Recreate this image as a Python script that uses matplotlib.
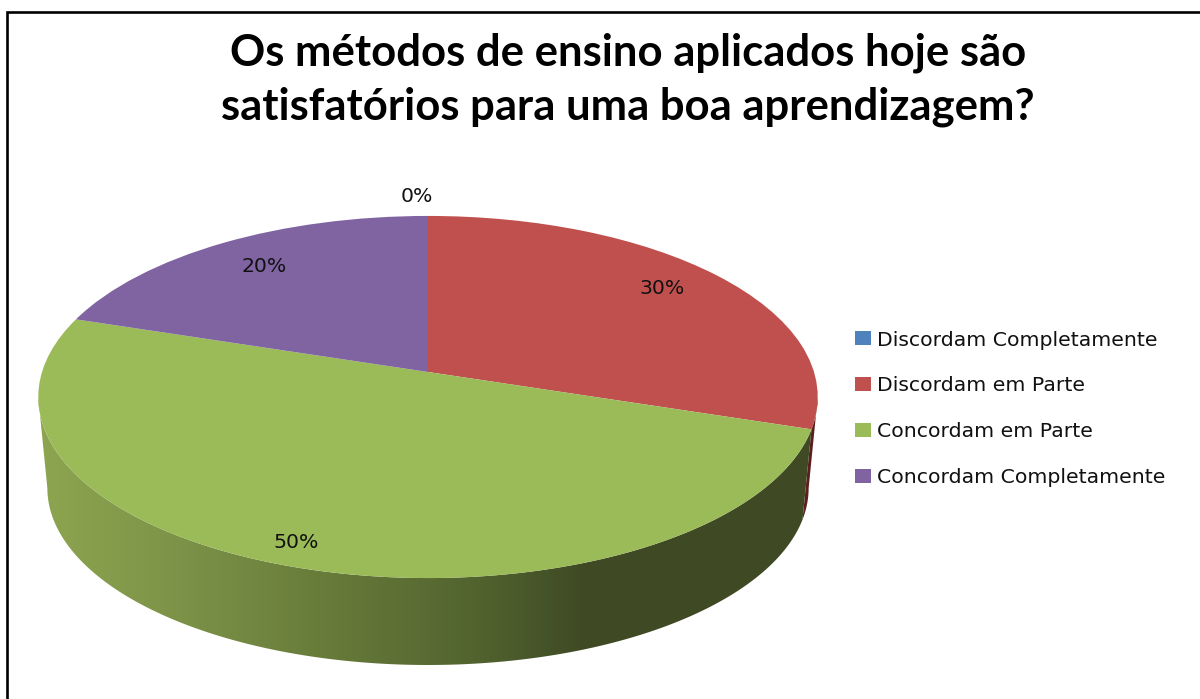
import numpy as np
from matplotlib import pyplot as plt
from matplotlib.colors import LinearSegmentedColormap
from matplotlib.patches import Polygon
from matplotlib.transforms import Transform

title = 'Os métodos de ensino aplicados hoje são\nsatisfatórios para uma boa aprendizagem?'
categories = ['Discordam Completamente', 'Discordam em Parte', 'Concordam em Parte', 'Concordam Completamente']
values = [0, 30, 50, 20]
colors = ['#4f81bd', '#c0504d', '#9bbb59', '#8064a2']
wall_stops = [(40, '#8ea650'), (150, '#80974a'), (300, '#6b7f3c'), (450, '#566831'),
              (520, '#4a5a2b'), (585, '#3f4a24'), (820, '#3f4a24')]

# perspective of the pie, all in picture pixels
CX, CY, RX, RY, K = 428, 372, 386, 177.6, 0.138
CY2, RX2, RY2 = 463.6, 377, 173.6
# where the wall meets the silhouette, clockwise from the top
EDGE_R, EDGE_L = 98, 262


class Tilt(Transform):
    input_dims = 2
    output_dims = 2

    def __init__(self, cy=CY, rx=RX, ry=RY):
        super().__init__()
        self.cy, self.rx, self.ry = cy, rx, ry

    def transform_non_affine(self, values):
        u, v = np.asarray(values).T
        d = 1 + K * v
        return np.column_stack([CX + self.rx * u / d, self.cy - self.ry * v / d])


def rim(tilt, a0, a1):
    # angles clockwise from the top of the pie
    a = np.radians(np.linspace(a0, a1, 200))
    return tilt.transform_non_affine(np.column_stack([np.sin(a), np.cos(a)]))


fig, ax = plt.subplots(figsize=(12, 6.99), dpi=100)
ax.set_position([0, 0, 1, 1])

wedges, _, pcts = ax.pie(values, colors=colors, startangle=90, counterclock=False,
                         autopct='%.0f%%', wedgeprops={'linewidth': 0})
ax.set_aspect('auto')

top = Tilt()
bottom = Tilt(CY2, RX2, RY2)
for w in wedges:
    w.set_transform(top + ax.transData)
    w.set_zorder(3)

# side wall: red sliver, then green with the shading gradient
end_red = 360 * values[1] / 100
sliver = np.vstack([rim(top, EDGE_R, end_red), rim(bottom, end_red, EDGE_R)])
ax.add_patch(Polygon(sliver, color='#5c1f1d', lw=0, zorder=1))

cmap = LinearSegmentedColormap.from_list(
    'wall', [((x - 30) / 790, c) if x > 40 else (0, c) for x, c in wall_stops])
wall = np.vstack([rim(top, end_red, EDGE_L), rim(bottom, EDGE_L, end_red)])
clip = Polygon(wall, transform=ax.transData, fc='none', lw=0)
ax.add_patch(clip)
img = ax.imshow(np.linspace(0, 1, 790)[None, :], cmap=cmap, extent=(30, 820, 699, 300),
                aspect='auto', zorder=2)
img.set_clip_path(clip)

ax.set_xlim(0, 1200)
ax.set_ylim(699, 0)
ax.axis('off')

pct_pos = [(417, 197), (662, 288), (296, 542), (264, 266)]
for t, p in zip(pcts, pct_pos):
    t.set_position(p)
    t.set_fontsize(14.7)
    t.set_zorder(5)
    t.set_color('#111111')

ax.text(628, 80, title, ha='center', va='center', fontsize=31.4, fontweight='bold',
        family='Lato', linespacing=1.42, color='black')

leg = ax.legend(wedges, categories, loc='upper left', bbox_to_anchor=(855 / 1200, 1 - 330.5 / 699),
                frameon=False, fontsize=14.7, handlelength=0.8, handleheight=0.68,
                handletextpad=0.3, labelspacing=1.31, borderpad=0, borderaxespad=0)
for t in leg.get_texts():
    t.set_color('#111111')

ax.plot([7, 7, 1200], [699, 12, 12], color='black', lw=1.9, solid_joinstyle='miter', zorder=6)

fig.savefig('out.png', dpi=100)
